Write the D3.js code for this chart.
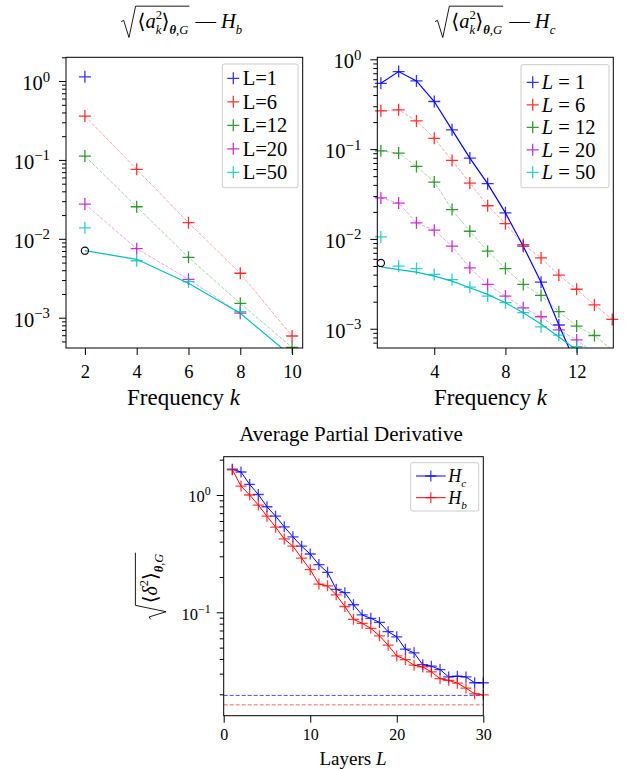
<!DOCTYPE html>
<html lang="en">
<head>
<meta charset="UTF-8">
<title>Average Partial Derivative</title>
<script src="https://d3js.org/d3.v7.min.js"></script>
<style>
  body { margin: 0; background: #fff; }
  svg { font-family: 'Liberation Serif', 'DejaVu Serif', serif; }
</style>
</head>
<body>
<svg id="chart" width="627" height="769"></svg>
<script>
// ---------- data: top left, H_b ----------
const kLeft = [2, 4, 6, 8, 10];
const hbL1  = [1.13, null, null, null, null];
const hbL6  = [0.36, 0.076, 0.016, 0.00366, 0.000586];
const hbL12 = [0.112, 0.0255, 0.00582, 0.00152, 0.00042];
const hbL20 = [0.0276, 0.0075, 0.00307, 0.00114, null];
const hbL50 = [0.0138, 0.00527, 0.00286, 0.00119, null];
const hbTheory = [0.00707, 0.0055, 0.00273, 0.00114, 0.00032];
const hbCircle = [2, 0.00707];

// ---------- data: top right, H_c ----------
const kRight = [1, 2, 3, 4, 5, 6, 7, 8, 9, 10, 11, 12, 13, 14];
const hcL1  = [0.54, 0.73, 0.575, 0.339, 0.164, 0.0794, 0.0412, 0.0195, 0.0083, 0.0033, 0.0011, 0.00039, null, null];
const hcL6  = [0.267, 0.274, 0.206, 0.132, 0.0748, 0.0419, 0.0234, 0.0148, 0.00865, 0.00615, 0.00396, 0.00275, 0.00184, 0.00127];
const hcL12 = [0.0958, 0.0903, 0.0642, 0.043, 0.0212, 0.01217, 0.0073, 0.00468, 0.00311, 0.00235, 0.00155, 0.00107, 0.00084, 0.00058];
const hcL20 = [0.0286, 0.0251, 0.0151, 0.0125, 0.0083, 0.00476, 0.00311, 0.00231, 0.00171, 0.00136, 0.00097, 0.00075, 0.00053, null];
const hcL50 = [0.01052, 0.00497, 0.00468, 0.00402, 0.00353, 0.0029, 0.00231, 0.00195, 0.00151, 0.00105, 0.00085, 0.00063, null, null];
const hcTheory = [0.00489, 0.00456, 0.00426, 0.00385, 0.00339, 0.00286, 0.00241, 0.00195, 0.00151, 0.00113, 0.00081, 0.00058, null, null];
const hcCircle = [1, 0.0054];

// ---------- data: bottom, average partial derivative ----------
const layers = d3.range(1, 31);
const deltaHc = [1.66, 1.57, 1.23, 1.01, 0.794, 0.66, 0.535, 0.44, 0.366, 0.314, 0.255, 0.219, 0.157, 0.147, 0.116,
                 0.0949, 0.0889, 0.082, 0.0683, 0.0618, 0.0485, 0.0451, 0.0358, 0.0347, 0.0325, 0.0281, 0.0285, 0.0281, 0.0251, 0.0251];
const deltaHb = [1.64, 1.19, 1.0, 0.82, 0.66, 0.532, 0.422, 0.366, 0.29, 0.231, 0.174, 0.168, 0.141, 0.112, 0.0871,
                 0.0805, 0.073, 0.063, 0.0525, 0.0425, 0.0395, 0.0354, 0.0342, 0.031, 0.0272, 0.0263, 0.0249, 0.0226, 0.0202, 0.0198];
const refHc = 0.01956;
const refHb = 0.01627;

const legendLeft  = ["L=1", "L=6", "L=12", "L=20", "L=50"];
const legendRight = ["1", "6", "12", "20", "50"];
const colors = ["#0000ff", "#ff0000", "#008000", "#bf00bf", "#00bfbf"];

const svg = d3.select("#chart");
const plus = s => `M${-s},0H${s}M0,${-s}V${s}`;
const NB = "\u00A0";

function panel(id, box, xDom, yDom) {
  const x = d3.scaleLinear().domain(xDom).range([box.x0, box.x1]);
  const y = d3.scaleLog().domain(yDom).range([box.y1, box.y0]);
  svg.append("clipPath").attr("id", id).append("rect")
    .attr("x", box.x0).attr("y", box.y0).attr("width", box.x1 - box.x0).attr("height", box.y1 - box.y0);
  const g = svg.append("g").attr("clip-path", `url(#${id})`);
  return { x, y, box, g };
}

function pts(xs, ys) { return xs.map((k, i) => [k, ys[i]]); }

function drawLine(p, data, color, opts) {
  const line = d3.line().defined(d => d[1] != null).x(d => p.x(d[0])).y(d => p.y(d[1]));
  p.g.append("path").attr("d", line(data)).attr("fill", "none")
    .attr("stroke", color).attr("stroke-width", opts.w || 1)
    .attr("stroke-opacity", opts.a == null ? 1 : opts.a)
    .attr("stroke-dasharray", opts.dash || null);
}

function drawMarkers(p, data, color, size, alpha) {
  const b = p.box;
  const vis = data.filter(d => d[1] != null).filter(d => {
    const px = p.x(d[0]), py = p.y(d[1]);
    return px >= b.x0 - 1 && px <= b.x1 + 1 && py >= b.y0 - 1 && py <= b.y1 + 1;
  });
  svg.append("g").selectAll("path").data(vis).join("path")
    .attr("transform", d => `translate(${p.x(d[0])},${p.y(d[1])})`)
    .attr("d", plus(size)).attr("fill", "none")
    .attr("stroke", color).attr("stroke-width", 1.3).attr("stroke-opacity", alpha);
}

function logAxis(p, fs, pad) {
  const [lo, hi] = p.y.domain();
  const majors = [], minors = [];
  for (let e = Math.floor(Math.log10(lo)); e <= Math.ceil(Math.log10(hi)); e++) {
    for (let m = 1; m < 10; m++) {
      const v = m * Math.pow(10, e);
      if (v >= lo && v <= hi) (m === 1 ? majors : minors).push(v);
    }
  }
  const gm = svg.append("g").attr("transform", `translate(${p.box.x0},0)`)
    .call(d3.axisLeft(p.y).tickValues(minors).tickSize(4).tickFormat(""));
  gm.select(".domain").remove();
  const g = svg.append("g").attr("transform", `translate(${p.box.x0},0)`)
    .call(d3.axisLeft(p.y).tickValues(majors).tickSize(7).tickPadding(pad).tickFormat(""));
  g.select(".domain").remove();
  g.attr("font-family", null).attr("font-size", null);
  g.selectAll(".tick text").each(function (d) {
    const e = Math.round(Math.log10(d));
    const t = d3.select(this).attr("dy", null).attr("y", fs * 0.42).attr("font-size", fs);
    t.append("tspan").text("10");
    t.append("tspan").text(e < 0 ? "\u2212" + (-e) : String(e))
      .attr("font-size", fs * 0.72).attr("dy", -fs * 0.42);
  });
}

function linAxis(p, ticks, fs, pad) {
  const g = svg.append("g").attr("transform", `translate(0,${p.box.y1})`)
    .call(d3.axisBottom(p.x).tickValues(ticks).tickSize(7).tickPadding(pad));
  g.select(".domain").remove();
  g.attr("font-family", null).attr("font-size", fs);
}

function frame(p) {
  const b = p.box;
  svg.append("rect").attr("x", b.x0).attr("y", b.y0)
    .attr("width", b.x1 - b.x0).attr("height", b.y1 - b.y0)
    .attr("fill", "none").attr("stroke", "#000").attr("stroke-width", 1);
}

// math-like text: parts = [text, style, pos, dx]
function mathText(g, parts, size) {
  const t = g.append("text").attr("font-size", size);
  let cur = 0;
  parts.forEach(([s, st, pos, dx]) => {
    const target = pos === "sup" ? -0.47 * size : pos === "sub" ? 0.3 * size : 0;
    const ts = t.append("tspan").text(s)
      .attr("dy", target - cur)
      .attr("font-size", pos ? size * 0.62 : size)
      .attr("font-style", st === "r" ? "normal" : "italic")
      .attr("font-weight", st === "b" ? "bold" : "normal");
    if (dx) ts.attr("dx", dx);
    cur = target;
  });
  return t;
}

function radical(g, parts, size) {
  const rw = size * 0.8;
  const inner = mathText(g, parts, size).attr("x", rw);
  const bb = inner.node().getBBox();
  const end = bb.x + bb.width + 1;
  g.append("path")
    .attr("d", `M0,${-size * 0.32} l${size * 0.12},${-size * 0.07} L${size * 0.38},${size * 0.45} L${rw - 2},${-size * 1.08} H${end}`)
    .attr("fill", "none").attr("stroke", "#000").attr("stroke-width", 0.9);
  return end;
}

const aParts = [["\u27E8", "r"], ["a", "i"], ["2", "r", "sup"], ["k", "i", "sub", -6.4], ["\u27E9", "r"],
                ["\u03B8", "b", "sub"], [",", "r", "sub"], ["G", "i", "sub"]];

function title(cx, baseY, hSub) {
  const g = svg.append("g");
  const inner = g.append("g");
  const end = radical(inner, aParts, 20.5);
  mathText(inner, [["\u2014" + NB, "r"], ["H", "i"], [hSub, "i", "sub"]], 20.5).attr("x", end + 6);
  const bb = inner.node().getBBox();
  g.attr("transform", `translate(${cx - bb.width / 2},${baseY})`);
}

// ---------- top left ----------
const pL = panel("clipL", { x0: 66, x1: 302.7, y0: 57.3, y1: 348 }, [1.27, 10.41], [4.13e-4, 2.0]);
[hbL6, hbL12, hbL20].forEach((s, i) => drawLine(pL, pts(kLeft, s), colors[i + 1], { a: 0.35, dash: "3.5,1.6" }));
drawLine(pL, pts(kLeft, hbTheory), colors[4], { w: 1.2 });
[hbL1, hbL6, hbL12, hbL20, hbL50].forEach((s, i) => drawMarkers(pL, pts(kLeft, s), colors[i], 6, 0.8));
svg.append("circle").attr("cx", pL.x(hbCircle[0])).attr("cy", pL.y(hbCircle[1])).attr("r", 3.6)
  .attr("fill", "none").attr("stroke", "#000").attr("stroke-width", 1.1);
logAxis(pL, 20.5, 9);
linAxis(pL, [2, 4, 6, 8, 10], 18.5, 10);
frame(pL);

// ---------- top right ----------
const pR = panel("clipR", { x0: 377.3, x1: 613.3, y0: 57.3, y1: 348 }, [0.8, 14.06], [6.1e-4, 1.053]);
[hcL6, hcL12, hcL20].forEach((s, i) => drawLine(pR, pts(kRight, s), colors[i + 1], { a: 0.35, dash: "3.5,1.6" }));
drawLine(pR, pts(kRight, hcL1), colors[0], { w: 1.2 });
drawLine(pR, pts(kRight, hcTheory), colors[4], { w: 1.2 });
[hcL1, hcL6, hcL12, hcL20, hcL50].forEach((s, i) => drawMarkers(pR, pts(kRight, s), colors[i], 6, 0.8));
svg.append("circle").attr("cx", pR.x(hcCircle[0])).attr("cy", pR.y(hcCircle[1])).attr("r", 3.6)
  .attr("fill", "none").attr("stroke", "#000").attr("stroke-width", 1.1);
logAxis(pR, 20.5, 9);
linAxis(pR, [4, 8, 12], 18.5, 10);
frame(pR);

// legends top
function legendBox(x, y, w, h) {
  svg.append("rect").attr("x", x).attr("y", y).attr("width", w).attr("height", h).attr("rx", 2)
    .attr("fill", "#fff").attr("fill-opacity", 0.8).attr("stroke", "#cccccc").attr("stroke-width", 1);
}
legendBox(222.3, 64, 75.7, 123.7);
legendLeft.forEach((lab, i) => {
  const y = 78.3 + i * 23.5;
  svg.append("path").attr("transform", `translate(233.3,${y})`).attr("d", plus(6))
    .attr("stroke", colors[i]).attr("stroke-width", 1.3).attr("stroke-opacity", 0.8);
  svg.append("text").attr("x", 242.7).attr("y", y + 7).attr("font-size", 20.5).text(lab);
});
legendBox(521, 64.7, 88, 123);
legendRight.forEach((lab, i) => {
  const y = 82.3 + i * 22.5;
  svg.append("path").attr("transform", `translate(532.7,${y})`).attr("d", plus(6))
    .attr("stroke", colors[i]).attr("stroke-width", 1.3).attr("stroke-opacity", 0.8);
  const t = svg.append("text").attr("x", 541.7).attr("y", y + 7).attr("font-size", 20.5);
  t.append("tspan").attr("font-style", "italic").text("L");
  t.append("tspan").text(NB + "=" + NB + lab);
});

// titles and labels top
title(181.7, 28.3, "b");
title(495.3, 28.3, "c");
[183.5, 490.5].forEach(cx => {
  const t = svg.append("text").attr("x", cx).attr("y", 405).attr("text-anchor", "middle").attr("font-size", 23);
  t.append("tspan").text("Frequency" + NB);
  t.append("tspan").attr("font-style", "italic").text("k");
});
svg.append("text").attr("x", 351).attr("y", 441).attr("text-anchor", "middle").attr("font-size", 21)
  .text("Average Partial Derivative");

// ---------- bottom ----------
const pB = panel("clipB", { x0: 223.7, x1: 483.3, y0: 456.7, y1: 715.7 }, [0, 30], [0.01314, 2.12]);
drawLine(pB, [[0, refHc], [30, refHc]], colors[0], { a: 0.7, dash: "4,2" });
drawLine(pB, [[0, refHb], [30, refHb]], colors[1], { a: 0.4, dash: "4,2", w: 1.5 });
drawLine(pB, pts(layers, deltaHc), colors[0], { w: 1 });
drawLine(pB, pts(layers, deltaHb), colors[1], { w: 1 });
drawMarkers(pB, pts(layers, deltaHc), colors[0], 5.5, 0.75);
drawMarkers(pB, pts(layers, deltaHb), colors[1], 5.5, 0.75);
logAxis(pB, 16.5, 6);
linAxis(pB, [0, 10, 20, 30], 16, 6);
frame(pB);

legendBox(410.7, 462.7, 68, 48.3);
[["c", 0], ["b", 1]].forEach(([sub, i], j) => {
  const y = 476 + j * 21.7;
  svg.append("line").attr("x1", 416).attr("x2", 445.7).attr("y1", y).attr("y2", y)
    .attr("stroke", colors[i]).attr("stroke-width", 1);
  svg.append("path").attr("transform", `translate(430.8,${y})`).attr("d", plus(5.5))
    .attr("stroke", colors[i]).attr("stroke-width", 1.3).attr("stroke-opacity", 0.75);
  mathText(svg.append("g").attr("transform", `translate(448.3,${y + 6})`), [["H", "i"], [sub, "i", "sub"]], 18);
});

{
  const t = svg.append("text").attr("x", 353).attr("y", 765).attr("text-anchor", "middle").attr("font-size", 19);
  t.append("tspan").text("Layers" + NB);
  t.append("tspan").attr("font-style", "italic").text("L");
}

// rotated y label of bottom
{
  const g = svg.append("g");
  const inner = g.append("g");
  radical(inner, [["\u27E8", "r"], ["\u03B4", "i"], ["2", "r", "sup"], ["\u27E9", "r"],
                  ["\u03B8", "b", "sub"], [",", "r", "sub"], ["G", "i", "sub"]], 20);
  const bb = inner.node().getBBox();
  inner.attr("transform", `translate(${-bb.width / 2},0)`);
  g.attr("transform", "translate(157,586) rotate(-90)");
}
</script>
</body>
</html>
